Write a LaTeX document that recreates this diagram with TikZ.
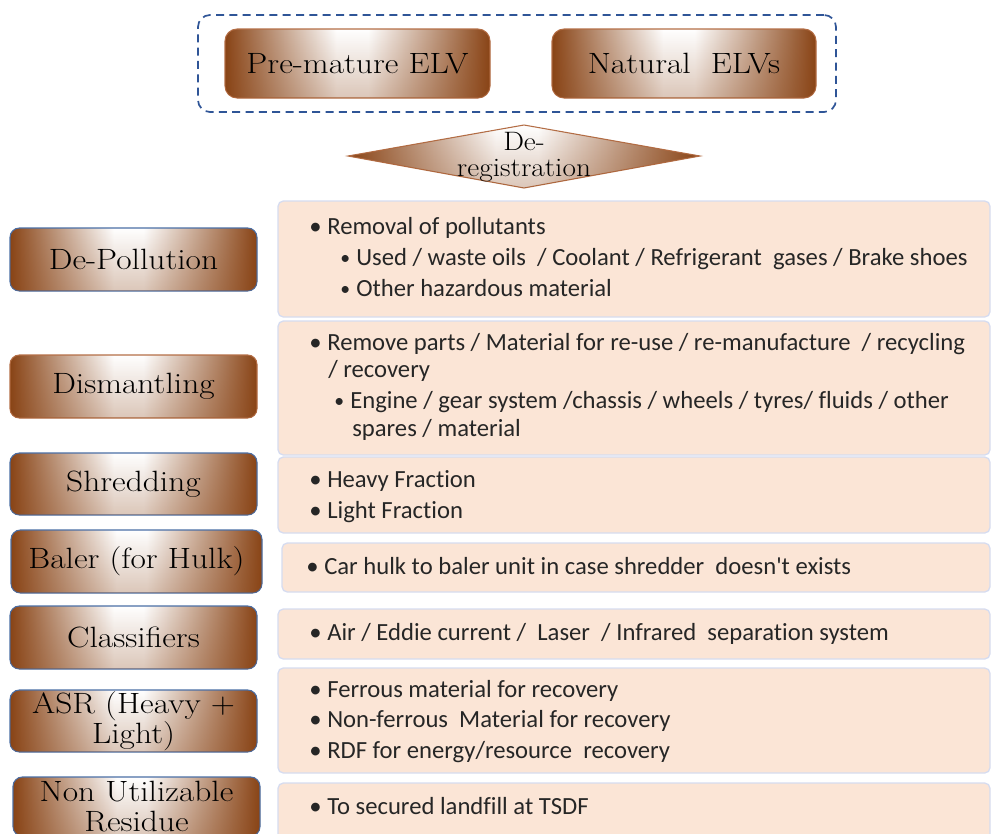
\documentclass[tikz,border=0pt]{standalone}
\usepackage{fontspec}
\newfontfamily\carl[Ligatures={NoCommon}]{Carlito}
\usetikzlibrary{shapes.geometric,fadings}
\definecolor{elvbrown}{RGB}{137,68,22}
\definecolor{dashblue}{RGB}{47,85,151}
\definecolor{peach}{RGB}{251,229,214}
\definecolor{rborder}{RGB}{214,220,240}
\definecolor{lborder}{RGB}{74,110,165}
\definecolor{bborder}{RGB}{180,110,70}
\definecolor{rtext}{RGB}{38,38,38}
\pgfdeclarehorizontalshading{hshade}{100bp}{color(0bp)=(elvbrown); color(25bp)=(elvbrown); color(46bp)=(white); color(52bp)=(white); color(75bp)=(elvbrown); color(100bp)=(elvbrown)}
\newcommand\mybox[7]{%
  \pgfmathsetmacro\cx{(#2+#4)/2}\pgfmathsetmacro\cy{(#3+#5)/2}%
  \pgfmathsetmacro\ww{(#4-#2)*0.75}\pgfmathsetmacro\hh{(#5-#3)*0.75}%
  \node[#6, minimum width=\ww pt, minimum height=\hh pt] (#1) at (\cx,\cy) {#7};}
\newcommand\bl{\makebox[13.5pt][l]{\textbullet}}
\newcommand\sbl{\makebox[12pt][l]{\raisebox{0.5pt}{\scalebox{0.8}{\textbullet}}}}
\newcommand\wide[1]{\scalebox{1.14}[1]{#1}}
\tikzset{
  lbox/.style={shading=hshade, draw=lborder, line width=0.8pt, rounded corners=7pt, inner sep=0pt, align=center, font=\fontsize{22}{22.5}\selectfont,
    postaction={fill=elvbrown, fill opacity=0.3, path fading=north}},
  tbox/.style={lbox, draw=bborder, rounded corners=9pt},
  rbox/.style={fill=peach, draw=rborder, line width=1pt, rounded corners=4pt, inner sep=0pt},
  rtxt/.style={anchor=base west, inner sep=0pt, text=rtext, font=\carl\fontsize{18.5}{21}\selectfont},
}
\begin{document}
\begin{tikzpicture}[x=0.75pt,y=-0.75pt]
\useasboundingbox (0,0) rectangle (991,833);
% top group
\mybox{grp}{198}{15}{836}{112}{draw=dashblue, line width=1.3pt, dash pattern=on 6pt off 4pt, rounded corners=9pt}{}
\mybox{pre}{225}{29}{490}{98}{tbox}{\wide{Pre-mature ELV}}
\mybox{nat}{552}{29}{816}{98}{tbox}{\wide{Natural\hspace{0.6em}ELVs}}
% diamond
\path[shading=hshade, draw=bborder, line width=0.8pt, postaction={fill=elvbrown, fill opacity=0.3, path fading=north}] (348,156) -- (524,125) -- (700,156) -- (524,188) -- cycle;
\node[align=center, inner sep=0pt, font=\fontsize{20}{19.5}\selectfont] (dereg) at (524,157) {\scalebox{1.1}[1]{De-}\\\scalebox{1.1}[1]{registration}};
% left boxes
\mybox{dep}{10}{228}{257}{291}{lbox}{\wide{De-Pollution}}
\mybox{dis}{10}{355}{257}{418}{lbox, draw=bborder}{\wide{Dismantling}}
\mybox{shr}{10}{453}{257}{515}{lbox}{\wide{Shredding}}
\mybox{bal}{11}{530}{262}{593}{lbox}{\wide{Baler (for Hulk)}}
\mybox{cla}{10}{606}{257}{669}{lbox}{\wide{Classifiers}}
\mybox{asr}{10}{690}{257}{752}{lbox}{\wide{ASR (Heavy +}\\\wide{Light)}}
\mybox{nur}{13}{777}{260}{836}{lbox}{\wide{Non Utilizable}\\\wide{Residue}}
% right boxes
\mybox{r1}{278}{201}{990}{317}{rbox}{}
\mybox{r2}{278}{321}{990}{455}{rbox}{}
\mybox{r3}{278}{457}{990}{533}{rbox}{}
\mybox{r4}{282}{543}{990}{592}{rbox}{}
\mybox{r5}{278}{609}{990}{659}{rbox}{}
\mybox{r6}{278}{668}{990}{773}{rbox}{}
\mybox{r7}{278}{783}{990}{845}{rbox}{}
% right texts
\node[rtxt] (t1a) at (309,234) {\bl Removal of pollutants};
\node[rtxt] (t1b) at (340,265) {\sbl Used / waste oils \ / Coolant / Refrigerant \ gases / Brake shoes};
\node[rtxt] (t1c) at (340,296) {\sbl Other hazardous material};
\node[rtxt] (t2a) at (309,350) {\bl Remove parts / Material for re-use / re-manufacture \ / recycling};
\node[rtxt] (t2b) at (328,377) {/ recovery};
\node[rtxt] (t2c) at (334,408) {\sbl Engine / gear system /chassis / wheels / tyres/ fluids / other};
\node[rtxt] (t2d) at (352,436) {spares / material};
\node[rtxt] (t3a) at (309,487) {\bl Heavy Fraction};
\node[rtxt] (t3b) at (309,518) {\bl Light Fraction};
\node[rtxt] (t4a) at (306,574) {\bl Car hulk to baler unit in case shredder \ doesn't exists};
\node[rtxt] (t5a) at (309,640) {\bl Air / Eddie current / \ Laser \ / Infrared \ separation system};
\node[rtxt] (t6a) at (309,697) {\bl Ferrous material for recovery};
\node[rtxt] (t6b) at (309,727) {\bl Non-ferrous \ Material for recovery};
\node[rtxt] (t6c) at (309,758) {\bl RDF for energy/resource \ recovery};
\node[rtxt] (t7a) at (309,814) {\bl To secured landfill at TSDF};
\end{tikzpicture}
\end{document}
